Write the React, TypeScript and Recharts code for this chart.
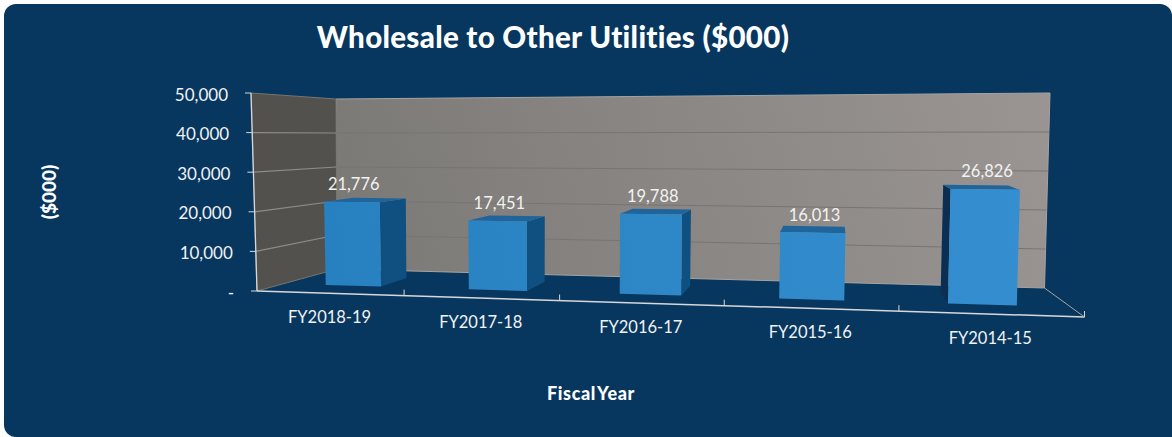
import { BarChart, Bar, XAxis, YAxis, LabelList } from 'recharts';

const categories = ['FY2018-19', 'FY2017-18', 'FY2016-17', 'FY2015-16', 'FY2014-15'];
const values = [21776, 17451, 19788, 16013, 26826];
const yTicks = [0, 10000, 20000, 30000, 40000, 50000];

const chartData = categories.map((name, i) => ({ name, value: values[i] }));

const FONT = 'Lato, "Open Sans", sans-serif';
const TEXT = '#f2f2f2';

// flat plot rectangle that recharts lays out, everything is then projected to the 3d box
const PLOT = { left: 257, top: 93, right: 1085, bottom: 291 };
const DEPTH_FRONT = 0.3;
const DEPTH_BACK = 0.68;

type Pt = [number, number];

// u along the x axis, w into the picture: corners (0,0) (1,0) (1,1) (0,1)
const homography = (p: Pt[]) => {
  const dx1 = p[1][0] - p[2][0];
  const dx2 = p[3][0] - p[2][0];
  const sx = p[0][0] - p[1][0] + p[2][0] - p[3][0];
  const dy1 = p[1][1] - p[2][1];
  const dy2 = p[3][1] - p[2][1];
  const sy = p[0][1] - p[1][1] + p[2][1] - p[3][1];
  const det = dx1 * dy2 - dx2 * dy1;
  const g = (sx * dy2 - dx2 * sy) / det;
  const h = (dx1 * sy - sx * dy1) / det;
  const a = p[1][0] - p[0][0] + g * p[1][0];
  const b = p[3][0] - p[0][0] + h * p[3][0];
  const d = p[1][1] - p[0][1] + g * p[1][1];
  const e = p[3][1] - p[0][1] + h * p[3][1];
  return (u: number, w: number): Pt => {
    const k = g * u + h * w + 1;
    return [(a * u + b * w + p[0][0]) / k, (d * u + e * w + p[0][1]) / k];
  };
};

const floor = homography([[257, 291], [1084.5, 317], [1044.5, 288], [337, 269]]);

// screen vector of the full axis height at the four floor corners
const RISE: Pt[] = [[-6, -198], [7, -227], [5.5, -195], [-1, -170]];

const project = (u: number, w: number, v: number): Pt => {
  const a = floor(u, w);
  const lerp = (i: number) =>
    (RISE[0][i] * (1 - u) + RISE[1][i] * u) * (1 - w) + (RISE[3][i] * (1 - u) + RISE[2][i] * u) * w;
  return [a[0] + lerp(0) * v, a[1] + lerp(1) * v];
};

const toU = (x: number) => (x - PLOT.left) / (PLOT.right - PLOT.left);
const toV = (y: number) => (PLOT.bottom - y) / (PLOT.bottom - PLOT.top);
const poly = (pts: Pt[]) => pts.map((p) => `${p[0]},${p[1]}`).join(' ');

const Box = ({ x, y, width }: any) => {
  const u0 = toU(x);
  const u1 = toU(x + width);
  const v = toV(y);
  const c = (u: number, w: number, h: number) => project(u, w, h);
  const front = [c(u0, DEPTH_FRONT, 0), c(u1, DEPTH_FRONT, 0), c(u1, DEPTH_FRONT, v), c(u0, DEPTH_FRONT, v)];
  const top = [c(u0, DEPTH_FRONT, v), c(u1, DEPTH_FRONT, v), c(u1, DEPTH_BACK, v), c(u0, DEPTH_BACK, v)];
  const right = [c(u1, DEPTH_FRONT, 0), c(u1, DEPTH_BACK, 0), c(u1, DEPTH_BACK, v), c(u1, DEPTH_FRONT, v)];
  const left = [c(u0, DEPTH_FRONT, 0), c(u0, DEPTH_BACK, 0), c(u0, DEPTH_BACK, v), c(u0, DEPTH_FRONT, v)];
  return (
    <g>
      {right[1][0] > right[0][0] && <polygon points={poly(right)} fill="#105080" />}
      {left[1][0] < left[0][0] && <polygon points={poly(left)} fill="#0a2f52" />}
      <polygon points={poly(top)} fill="#1f659b" />
      <polygon points={poly(front)} fill="url(#barFront)" />
    </g>
  );
};

const ValueLabel = ({ x, y, width, value }: any) => {
  const p = project(toU(x + width / 2), DEPTH_FRONT, toV(y));
  return (
    <text x={p[0] + 2} y={p[1] - 18} textAnchor="middle" dominantBaseline="central" fill={TEXT} fontFamily={FONT} fontSize={16.5}>
      {Number(value).toLocaleString('en-US')}
    </text>
  );
};

const XTick = ({ x, payload }: any) => {
  const p = project(toU(x), 0, 0);
  return (
    <text x={p[0]} y={p[1] + 24} textAnchor="middle" dominantBaseline="central" fill={TEXT} fontFamily={FONT} fontSize={16.5}>
      {payload.value}
    </text>
  );
};

const YTick = ({ y, payload }: any) => {
  const p = project(0, 0, toV(y));
  return (
    <text x={p[0] - 23} y={p[1] + 1} textAnchor="end" dominantBaseline="central" fill={TEXT} fontFamily={FONT} fontSize={17}>
      {payload.value === 0 ? '-' : payload.value.toLocaleString('en-US')}
    </text>
  );
};

const Walls = () => {
  const backWall = [project(0, 1, 0), project(1, 1, 0), project(1, 1, 1), project(0, 1, 1)];
  const leftWall = [project(0, 0, 0), project(0, 1, 0), project(0, 1, 1), project(0, 0, 1)];
  const boundaries = categories.map((_, i) => (i + 1) / categories.length);
  return (
    <g>
      <defs>
        <linearGradient id="backWall" gradientUnits="userSpaceOnUse" x1="340" y1="270" x2="1050" y2="95">
          <stop offset="0" stopColor="#7b7976" />
          <stop offset="1" stopColor="#9a9592" />
        </linearGradient>
        <linearGradient id="barFront" gradientUnits="userSpaceOnUse" x1="320" y1="290" x2="1020" y2="190">
          <stop offset="0" stopColor="#2780bf" />
          <stop offset="1" stopColor="#358ecf" />
        </linearGradient>
      </defs>
      <polygon points={poly(backWall)} fill="url(#backWall)" stroke="#a5a3a1" strokeWidth={1} />
      <polygon points={poly(leftWall)} fill="#53514e" stroke="#77756f" strokeWidth={1} />
      {yTicks.slice(1, -1).map((t) => {
        const v = t / yTicks[yTicks.length - 1];
        const a = project(0, 0, v);
        const b = project(0, 1, v);
        const c = project(1, 1, v);
        return (
          <g key={t}>
            <line x1={a[0]} y1={a[1]} x2={b[0]} y2={b[1]} stroke="#8d8c89" strokeWidth={1.2} />
            <line x1={b[0]} y1={b[1]} x2={c[0]} y2={c[1]} stroke="#777573" strokeWidth={1} />
          </g>
        );
      })}
      {yTicks.map((t) => {
        const p = project(0, 0, t / yTicks[yTicks.length - 1]);
        return <line key={t} x1={p[0] - 6} y1={p[1]} x2={p[0]} y2={p[1]} stroke="#d8d8d8" strokeWidth={1} />;
      })}
      <line x1={project(0, 0, 0)[0]} y1={project(0, 0, 0)[1]} x2={project(0, 0, 1)[0]} y2={project(0, 0, 1)[1]} stroke="#d8d8d8" strokeWidth={1.3} />
      <line x1={project(0, 0, 0)[0]} y1={project(0, 0, 0)[1]} x2={project(1, 0, 0)[0]} y2={project(1, 0, 0)[1]} stroke="#d8d8d8" strokeWidth={1.5} />
      <line x1={project(1, 1, 0)[0]} y1={project(1, 1, 0)[1]} x2={project(1, 0, 0)[0]} y2={project(1, 0, 0)[1]} stroke="#a5a3a1" strokeWidth={1} />
      {boundaries.map((u) => {
        const p = project(u, 0, 0);
        return <line key={u} x1={p[0]} y1={p[1]} x2={p[0]} y2={p[1] - 6} stroke="#d8d8d8" strokeWidth={1} />;
      })}
    </g>
  );
};

export default function App() {
  return (
    <div style={{ position: 'absolute', left: 0, top: 0, width: 1172, height: 437, background: '#fff' }}>
      <div style={{ position: 'absolute', left: 4, top: 4, width: 1168, height: 433, background: '#07375f', borderRadius: '12px 12px 0 12px' }} />
      <div style={{ position: 'absolute', left: 0, top: 0 }}>
        <BarChart
          width={1172}
          height={437}
          data={chartData}
          barCategoryGap="30.5%"
          margin={{ left: PLOT.left - 60, top: PLOT.top, right: 1172 - PLOT.right, bottom: 437 - PLOT.bottom - 30 }}
        >
          <Walls />
          <XAxis dataKey="name" height={30} axisLine={false} tickLine={false} interval={0} tick={<XTick />} />
          <YAxis width={60} domain={[0, 50000]} ticks={yTicks} axisLine={false} tickLine={false} tick={<YTick />} />
          <Bar dataKey="value" shape={<Box />} isAnimationActive={false}>
            <LabelList dataKey="value" content={<ValueLabel />} />
          </Bar>
          <text x={553} y={36} textAnchor="middle" dominantBaseline="central" fill="#fff" fontFamily={FONT} fontWeight={900} fontSize={29.5} letterSpacing={0.3}>
            Wholesale to Other Utilities ($000)
          </text>
          <text x={591} y={393} textAnchor="middle" dominantBaseline="central" fill="#fff" fontFamily={FONT} fontWeight={900} fontSize={18} letterSpacing={0.6} wordSpacing={-3}>
            Fiscal Year
          </text>
          <text transform="translate(48 192) rotate(-90)" textAnchor="middle" dominantBaseline="central" fill="#fff" fontFamily={FONT} fontWeight={900} fontSize={19}>
            ($000)
          </text>
        </BarChart>
      </div>
    </div>
  );
}
